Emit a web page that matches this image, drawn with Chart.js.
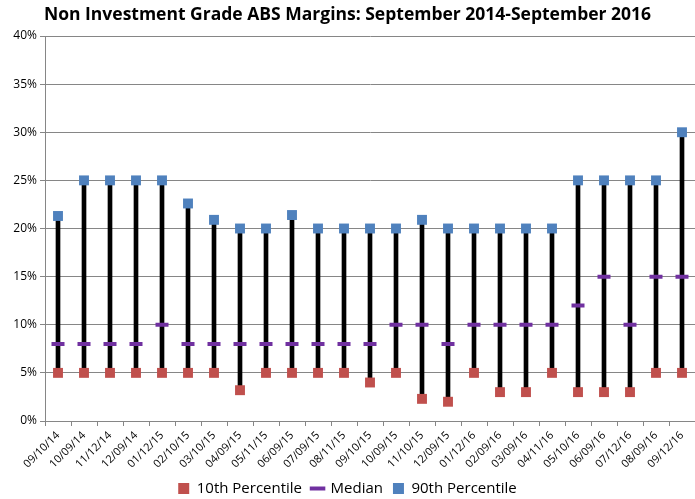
<!DOCTYPE html>
<html>
<head>
<meta charset="utf-8">
<script src="https://cdn.jsdelivr.net/npm/chart.js@4"></script>
<style>
  html, body { margin: 0; padding: 0; background: #fff; }
  #wrap { width: 695px; height: 499px; position: relative; }
</style>
</head>
<body>
<div id="wrap"><canvas id="chart"></canvas></div>
<script>
const dates = ['09/10/14', '10/09/14', '11/12/14', '12/09/14', '01/12/15', '02/10/15', '03/10/15', '04/09/15',
    '05/11/15', '06/09/15', '07/09/15', '08/11/15', '09/10/15', '10/09/15', '11/10/15', '12/09/15',
    '01/12/16', '02/09/16', '03/09/16', '04/11/16', '05/10/16', '06/09/16', '07/12/16', '08/09/16', '09/12/16'];
const p10 = [5, 5, 5, 5, 5, 5, 5, 3.2, 5, 5, 5, 5, 4, 5, 2.3, 2, 5, 3, 3, 5, 3, 3, 3, 5, 5];
const median = [8, 8, 8, 8, 10, 8, 8, 8, 8, 8, 8, 8, 8, 10, 10, 8, 10, 10, 10, 10, 12, 15, 10, 15, 15];
const p90 = [21.3, 25, 25, 25, 25, 22.6, 20.9, 20, 20, 21.4, 20, 20, 20, 20, 20.9, 20, 20, 20, 20, 20, 25, 25, 25, 25, 30];
const yTicks = [0, 5, 10, 15, 20, 25, 30, 35, 40];

const FONT = "'Open Sans', 'Noto Sans', sans-serif";

// high-low lines drawn as thin floating bars
const ranges = p10.map((v, i) => [v, p90[i]]);

new Chart(document.getElementById('chart'), {
    data: {
        labels: dates,
        datasets: [
            { type: 'line', label: '10th Percentile', data: p10, showLine: false, pointStyle: 'rect',
              pointRadius: 7, pointHoverRadius: 7, backgroundColor: '#C0504D', borderColor: '#C0504D', borderWidth: 0, order: 1 },
            { type: 'line', label: 'Median', data: median, showLine: false, pointStyle: 'line',
              pointRadius: 6.5, pointHoverRadius: 6.5, backgroundColor: '#7030A0', borderColor: '#7030A0', pointBorderWidth: 4, order: 1 },
            { type: 'line', label: '90th Percentile', data: p90, showLine: false, pointStyle: 'rect',
              pointRadius: 7, pointHoverRadius: 7, backgroundColor: '#4F81BD', borderColor: '#4F81BD', borderWidth: 0, order: 1 },
            { type: 'bar', label: 'range', data: ranges, backgroundColor: '#000', barThickness: 4, order: 2 }
        ]
    },
    options: {
        responsive: true,
        maintainAspectRatio: false,
        animation: false,
        layout: { autoPadding: false, padding: { left: 0, right: 0, top: 5, bottom: -7 } },
        plugins: {
            title: {
                display: true,
                text: 'Non Investment Grade ABS Margins: September 2014-September 2016',
                font: { family: FONT, size: 17.5, weight: 'bold' },
                color: '#000',
                padding: { top: 0, bottom: 10 }
            },
            legend: {
                position: 'bottom',
                labels: {
                    usePointStyle: true,
                    font: { family: FONT, size: 15 },
                    color: '#000',
                    boxWidth: 11,
                    boxHeight: 11,
                    padding: 10,
                    filter: item => item.text !== 'range'
                }
            },
            tooltip: { enabled: false }
        },
        scales: {
            x: {
                offset: true,
                grid: { display: true, drawOnChartArea: false, offset: true, tickLength: 5, color: '#868686' },
                border: { color: '#868686' },
                afterFit: axis => { axis.height = 50; axis.paddingRight = 0; },
                ticks: { minRotation: 45, maxRotation: 45, autoSkip: false, color: '#000',
                    font: { family: FONT, size: 11 } }
            },
            y: {
                min: 0,
                max: 40,
                afterBuildTicks: axis => { axis.ticks = yTicks.map(v => ({ value: v })); },
                afterFit: axis => { axis.width = 45; },
                grid: { color: '#868686', tickLength: 5 },
                border: { color: '#868686' },
                ticks: { color: '#000', font: { family: FONT, size: 12 }, callback: v => v + '%' }
            }
        }
    }
});
</script>
</body>
</html>
